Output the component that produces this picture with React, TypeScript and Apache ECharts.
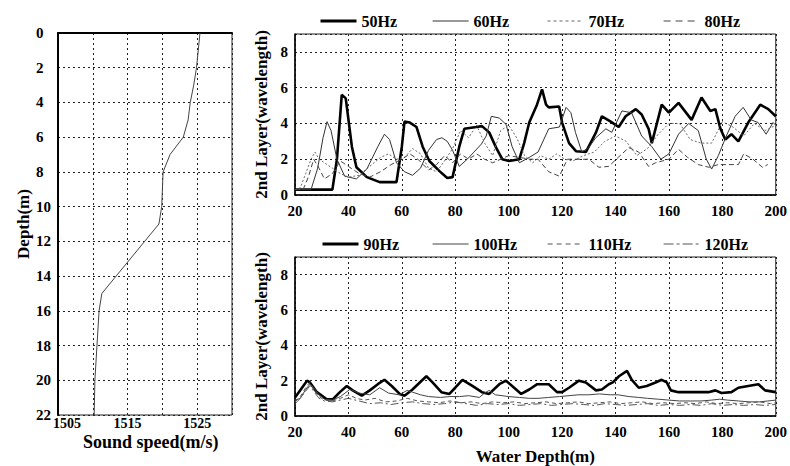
import React, { useEffect, useRef } from "react";
import * as echarts from "echarts";

// Sound speed profile
const profileDepth = [0, 2, 3, 4, 5, 6, 7, 8, 10, 11, 15, 16, 18, 20, 22];
const profileSpeed = [1525.4, 1524.9, 1524.5, 1524.0, 1523.7, 1523.0, 1521.1, 1520.1, 1519.9, 1519.5, 1511.3, 1510.9, 1510.6, 1510.3, 1510.2];

// Upper panel: water depth (m) vs 2nd layer (wavelength)
const f50: number[][] = [[20,0.3],[34,0.3],[35.7,2.0],[37.5,5.6],[39,5.4],[41.3,2.7],[43,1.55],[46.9,1.0],[51.7,0.72],[58,0.72],[60,2.7],[61,4.1],[63,4.05],[65.5,3.8],[67.8,2.7],[70.3,1.9],[74,1.35],[77,0.95],[79,1.0],[81.5,2.7],[83.4,3.7],[87.9,3.8],[90,3.85],[92.7,3.5],[95.3,2.65],[97.6,2.0],[100.2,1.9],[104,2.0],[105.8,2.9],[107.7,4.05],[110.6,5.05],[112.5,5.9],[114,5.05],[115,4.9],[118.9,4.95],[120,4.05],[122.6,2.9],[125.2,2.45],[128.9,2.4],[132.7,3.5],[134.9,4.4],[138.2,4.1],[141.2,3.8],[143.8,4.4],[147.6,4.8],[149.8,4.5],[152.4,3.7],[153.6,2.9],[157.3,5.05],[160,4.6],[163.6,5.15],[168.5,4.2],[172.2,5.45],[175.5,4.7],[177.4,4.8],[179.3,3.7],[181.1,3.1],[183.4,3.4],[186,3.0],[189.7,4.05],[194.2,5.05],[197.2,4.8],[200,4.4]];
const f60: number[][] = [[20,0.3],[26,0.3],[28.5,1.5],[30.5,3.2],[32,4.1],[33.5,3.6],[35.7,2.0],[38.6,1.05],[43,0.9],[46.9,1.45],[51,2.7],[53.5,3.4],[55.4,3.1],[58,1.8],[61,1.3],[64,1.1],[67,1.5],[70,2.5],[73,3.1],[75,3.2],[77,3.0],[79,2.5],[81.5,1.6],[84.5,2.0],[87,2.4],[89.8,2.85],[91.6,3.3],[93.5,4.4],[96.5,4.3],[99,3.95],[101.3,2.7],[104,1.8],[107.7,2.1],[111,2.4],[115,3.7],[119,3.8],[121.5,4.9],[123.3,4.6],[125,3.5],[127.4,2.4],[130,2.65],[132.6,3.2],[136.4,3.7],[138.6,3.5],[142.4,4.7],[146,4.6],[149.8,3.3],[153.6,2.7],[157,2.0],[160,2.3],[163.6,3.4],[167.4,4.0],[171,3.6],[174,2.0],[176,1.45],[178.5,2.2],[181.5,3.3],[184.8,4.4],[187.8,4.9],[190.8,4.2],[193.4,4.05],[196.4,3.4],[199,4.05],[200,3.9]];
const f70: number[][] = [[20,0.3],[22,0.4],[24,1.2],[26,2.0],[27.5,2.4],[29,2.0],[31,1.8],[34,1.5],[37,1.2],[40,1.0],[44,1.1],[48,1.6],[52,2.1],[55,2.3],[58,2.0],[61,2.1],[64,2.6],[67,2.3],[70,1.5],[73,1.3],[76,1.9],[79,2.6],[82,3.6],[85,3.2],[88,3.9],[91,2.9],[94,2.2],[97,3.6],[100,3.9],[103,3.2],[106,2.2],[109,1.8],[112,2.2],[115,2.0],[118,2.3],[121,2.0],[124,1.9],[128,2.2],[132,2.4],[136,3.0],[140,3.3],[144,3.0],[148,2.2],[152,2.6],[156,3.4],[160,4.0],[164,4.0],[168,3.1],[172,2.9],[176,2.9],[180,4.1],[184,3.8],[188,3.3],[192,4.0],[196,3.6],[200,3.9]];
const f80: number[][] = [[20,0.3],[23,0.3],[25,1.0],[27,2.0],[29,1.5],[31,0.9],[34,1.2],[37,1.9],[40,1.6],[44,1.2],[48,1.0],[52,1.3],[56,1.7],[60,2.0],[63,2.3],[66,2.0],[70,1.4],[73,1.7],[76,2.2],[79,1.8],[82,2.3],[85,2.0],[88,2.3],[91,2.0],[94,1.8],[97,2.0],[100,2.2],[104,2.1],[108,2.0],[111,2.0],[115,1.3],[119,1.05],[120.7,1.6],[122,2.0],[130,2.0],[133.8,1.55],[137.5,1.6],[141,2.1],[145,2.65],[148.7,2.4],[152.4,1.6],[155,1.8],[160,2.0],[163.6,2.55],[167,2.1],[171,1.7],[175,1.55],[178.5,1.7],[186,1.7],[188,2.3],[191.5,2.0],[195,1.55],[197,1.7]];

// Lower panel
const f90: number[][] = [[20,1.05],[21.9,1.45],[24.5,2.0],[25.6,1.9],[28.2,1.35],[31.9,0.95],[34.2,0.95],[36.8,1.35],[39.4,1.7],[41.6,1.45],[45,1.15],[48,1.45],[51,1.8],[53.5,2.05],[56.2,1.7],[59.2,1.25],[61,1.15],[64,1.5],[67.8,2.05],[69.2,2.25],[71.5,1.9],[74.8,1.35],[77.8,1.25],[80,1.6],[82.7,2.05],[86.4,1.7],[90,1.35],[92.7,1.25],[96.5,1.8],[99,2.0],[101.3,1.7],[104.7,1.25],[107.7,1.5],[110.7,1.8],[115,1.8],[118.1,1.35],[120,1.35],[122.6,1.6],[126.3,2.0],[128.9,1.9],[132.7,1.45],[134.9,1.5],[137.5,1.8],[139,1.9],[141.3,2.25],[144.3,2.55],[146.1,2.05],[148.7,1.6],[151.7,1.7],[155,1.9],[157.3,2.05],[159.2,1.9],[160.7,1.45],[163.6,1.35],[170,1.35],[174.8,1.35],[177.4,1.45],[179.7,1.3],[183.4,1.35],[186,1.6],[189.7,1.7],[193.5,1.8],[196,1.45],[200,1.35]];
const f100: number[][] = [[20,0.9],[22,1.0],[24,1.5],[25.6,1.8],[27,1.6],[29,1.2],[31,0.95],[34,0.9],[37,1.1],[40.5,1.5],[44,1.3],[48,1.2],[51.7,1.6],[55,1.3],[59,1.2],[62,1.45],[64,1.35],[67,1.2],[70,1.1],[74.5,1.05],[78,1.1],[81.6,1.1],[85,1.15],[89,1.05],[91,1.3],[92.7,1.45],[95,1.2],[100,1.1],[104,1.05],[107.7,1.0],[111,1.0],[115,1.05],[119,1.1],[122.6,1.15],[126,1.2],[130,1.2],[134,1.25],[138,1.2],[141,1.2],[145,1.1],[148.7,1.05],[152,1.0],[156,0.95],[160,0.9],[164,0.85],[168,0.85],[172,0.85],[176,0.9],[179,0.95],[182,0.9],[186,0.85],[190,0.8],[194,0.8],[197,0.85],[200,0.9]];
const f110: number[][] = [[20,0.8],[22,1.1],[24,1.6],[25.5,1.9],[27,1.5],[29,1.1],[31,0.9],[34,0.85],[37,1.0],[40,1.2],[43,1.0],[46,0.9],[50,1.0],[54,0.8],[58,0.85],[62,1.0],[66,0.85],[70,0.8],[74,0.75],[78,0.85],[82,0.75],[86,0.8],[90,0.7],[94,0.8],[98,0.75],[102,0.8],[106,0.7],[110,0.75],[114,0.8],[118,0.7],[122,0.75],[126,0.8],[130,0.7],[134,0.75],[138,0.8],[142,0.7],[146,0.75],[150,0.8],[154,0.7],[158,0.75],[162,0.7],[166,0.75],[170,0.7],[174,0.8],[178,0.7],[182,0.75],[186,0.7],[190,0.75],[194,0.8],[198,0.7],[200,0.75]];
const f120: number[][] = [[20,0.7],[22,1.0],[24,1.4],[25.5,1.7],[27,1.4],[29,1.0],[31,0.85],[34,0.8],[37,0.9],[40,1.0],[44,0.85],[48,0.7],[52,0.75],[56,0.65],[60,0.75],[64,0.8],[68,0.7],[72,0.65],[76,0.7],[80,0.8],[84,0.7],[88,0.6],[92,0.7],[96,0.65],[100,0.7],[104,0.6],[108,0.65],[112,0.7],[116,0.6],[120,0.65],[124,0.7],[128,0.65],[132,0.6],[136,0.7],[140,0.65],[144,0.6],[148,0.65],[152,0.7],[156,0.6],[160,0.65],[164,0.6],[168,0.65],[172,0.6],[176,0.7],[180,0.6],[184,0.65],[188,0.6],[192,0.65],[196,0.6],[200,0.65]];

const FONT = '"Liberation Serif", "Times New Roman", serif';

export default function App() {
  const ref = useRef<HTMLDivElement>(null);
  useEffect(() => {
    if (!ref.current) return;
    const chart = echarts.init(ref.current, undefined, { renderer: "svg" });
    const grid = { color: "#222", type: [2, 3] as number[], width: 1 };
    const lbl = { fontFamily: FONT, fontWeight: "bold" as const, fontSize: 15, color: "#000" };
    const nameStyle = { fontFamily: FONT, fontWeight: "bold" as const, fontSize: 17, color: "#000" };
    const rightX = (idx: number, withName: boolean) => ({
      type: "value", gridIndex: idx, min: 20, max: 200, interval: 20,
      axisLine: { show: true, lineStyle: { color: "#000", width: 1.5 } },
      axisTick: { show: false },
      axisLabel: { ...lbl, margin: 8 },
      splitLine: { show: true, lineStyle: grid },
      name: withName ? "Water Depth(m)" : "", nameLocation: "middle", nameGap: 32, nameTextStyle: nameStyle,
    });
    const rightY = (idx: number) => ({
      type: "value", gridIndex: idx, min: 0, max: 9, interval: 2,
      axisLine: { show: true, lineStyle: { color: "#000", width: 1.5 } },
      axisTick: { show: false },
      axisLabel: { ...lbl, margin: 7, showMaxLabel: false },
      splitLine: { show: true, lineStyle: grid },
      name: "2nd Layer(wavelength)", nameLocation: "middle", nameGap: 14, nameTextStyle: nameStyle,
    });
    const legend = (name: string, left: number, top: number, lineStyle: any) => ({
      data: [name], left, top, itemWidth: 36, itemHeight: 12, selectedMode: false,
      textStyle: { fontFamily: FONT, fontWeight: "bold", fontSize: 16, color: "#000" },
      itemStyle: { opacity: 0, borderWidth: 0 },
      lineStyle,
    });
    const line = (name: string, data: number[][], idx: number, color: string, width: number, type: any) => ({
      name, type: "line", data, xAxisIndex: idx, yAxisIndex: idx, showSymbol: false, symbol: "none",
      lineStyle: { color, width, type }, itemStyle: { color },
    });
    chart.setOption({
      animation: false,
      backgroundColor: "#fff",
      grid: [
        { left: 58, top: 33, width: 174, height: 382, show: true, borderColor: "#222", borderWidth: 1 },
        { left: 295, top: 34, width: 483, height: 161, show: true, borderColor: "#222", borderWidth: 1 },
        { left: 295, top: 257, width: 483, height: 162, show: true, borderColor: "#222", borderWidth: 1 },
      ],
      xAxis: [
        {
          type: "value", gridIndex: 0, min: 1505, max: 1530, interval: 5,
          axisLine: { show: true, lineStyle: { color: "#000", width: 2 } },
          axisTick: { show: false },
          axisLabel: {
            ...lbl, fontSize: 14, margin: 1,
            formatter: (v: number) => (v === 1505 ? "{first|1505}" : (v - 1505) % 10 === 0 && v < 1530 ? String(v) : ""),
            rich: { first: { fontFamily: FONT, fontWeight: "bold", fontSize: 14, color: "#000", padding: [0, 0, 0, 18] } },
          },
          splitLine: { show: true, lineStyle: grid },
        },
        rightX(1, false),
        rightX(2, true),
      ],
      yAxis: [
        {
          type: "value", gridIndex: 0, min: 0, max: 22, interval: 2, inverse: true,
          axisLine: { show: true, lineStyle: { color: "#000", width: 2 } },
          axisTick: { show: false },
          axisLabel: { ...lbl, margin: 22, align: "left" },
          splitLine: { show: true, lineStyle: grid },
          name: "Depth(m)", nameLocation: "middle", nameGap: 26, nameTextStyle: nameStyle,
        },
        rightY(1),
        rightY(2),
      ],
      legend: [
        legend("50Hz", 314, 8, { width: 3 }),
        legend("60Hz", 427, 8, { width: 1.2 }),
        legend("70Hz", 542, 8, { width: 1, type: [3, 3] }),
        legend("80Hz", 658, 8, { width: 1.2, type: [7, 5] }),
        legend("90Hz", 316, 231, { width: 3 }),
        legend("100Hz", 427, 231, { width: 1.2 }),
        legend("110Hz", 542, 231, { width: 1.2, type: [5, 4] }),
        legend("120Hz", 658, 231, { width: 1.2, type: [10, 3, 3, 3] }),
      ],
      graphic: [
        { type: "text", left: 83, top: 433, style: { text: "Sound speed(m/s)", font: `bold 18px ${FONT}`, fill: "#000" } },
      ],
      series: [
        {
          name: "profile", type: "line", xAxisIndex: 0, yAxisIndex: 0, showSymbol: false, symbol: "none",
          data: profileDepth.map((d, i) => [profileSpeed[i], d]),
          lineStyle: { color: "#444", width: 1 },
        },
        line("50Hz", f50, 1, "#000", 2.6, "solid"),
        line("60Hz", f60, 1, "#333", 1, "solid"),
        line("70Hz", f70, 1, "#666", 1, [2, 2]),
        line("80Hz", f80, 1, "#444", 1, [5, 3]),
        line("90Hz", f90, 2, "#000", 2.6, "solid"),
        line("100Hz", f100, 2, "#444", 1, "solid"),
        line("110Hz", f110, 2, "#555", 1, [4, 3]),
        line("120Hz", f120, 2, "#555", 1, [8, 3, 2, 3]),
      ],
    });
    return () => chart.dispose();
  }, []);
  return <div ref={ref} style={{ position: "absolute", left: 0, top: 0, width: 790, height: 466 }} />;
}
